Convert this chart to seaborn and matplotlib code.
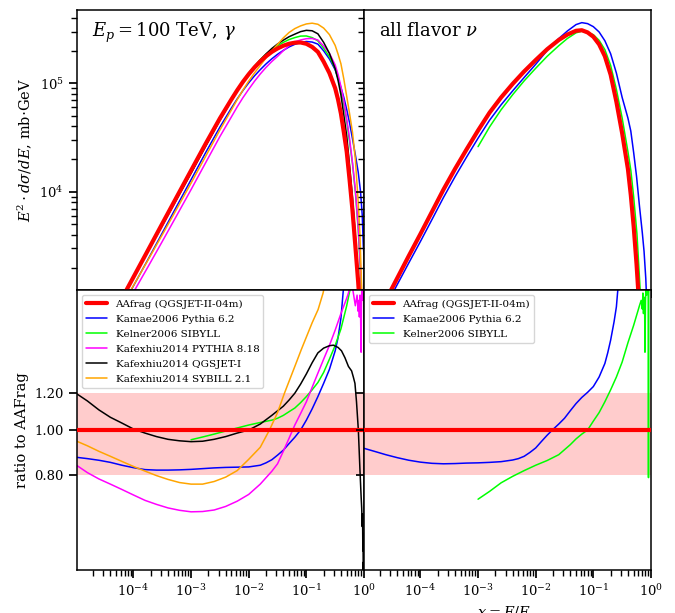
import numpy as np
import matplotlib
matplotlib.use("Agg")
import matplotlib.pyplot as plt
import matplotlib.ticker as mticker
import seaborn as sns

# ---------------- data (log10 values) ----------------
# Top-left: gamma spectra, log10 of E^2 dsigma/dE [mb GeV] vs log10 x
g_aafrag_lx = [-4.2, -4.0, -3.75, -3.5, -3.25, -3.0, -2.75, -2.5, -2.3, -2.2, -2.1, -2.0, -1.9, -1.8, -1.7, -1.6, -1.5, -1.4,
               -1.3, -1.2, -1.1, -1.0, -0.9, -0.8, -0.7, -0.6, -0.5, -0.45, -0.4, -0.35, -0.3, -0.25, -0.2, -0.15, -0.1,
               -0.07, -0.04]
g_aafrag_ly = [3.015, 3.212, 3.458, 3.705, 3.951, 4.196, 4.44, 4.677, 4.852, 4.936, 5.014, 5.084, 5.147, 5.202, 5.25, 5.29, 5.322, 5.347,
               5.365, 5.375, 5.377, 5.365, 5.336, 5.29, 5.20, 5.095, 4.955, 4.85, 4.72, 4.55, 4.37, 4.11, 3.83, 3.5, 3.16,
               2.92, 2.6]

g_kamae_lx = [-4.2, -4.0, -3.75, -3.5, -3.25, -3.0, -2.75, -2.5, -2.3, -2.2, -2.1, -2.0, -1.9, -1.8, -1.7, -1.6, -1.5, -1.4,
              -1.3, -1.2, -1.1, -1.0, -0.9, -0.8, -0.7, -0.6, -0.5, -0.45, -0.4, -0.35, -0.3, -0.25, -0.2, -0.15, -0.1,
              -0.06, -0.03, -0.012, 0.0]
g_kamae_ly = [2.939, 3.131, 3.373, 3.619, 3.865, 4.111, 4.358, 4.596, 4.772, 4.856, 4.934, 5.005, 5.069, 5.126, 5.179, 5.226, 5.268, 5.304,
              5.336, 5.36, 5.377, 5.386, 5.381, 5.362, 5.30, 5.225, 5.125, 5.049, 4.961, 4.87, 4.76, 4.635, 4.49, 4.34, 4.18,
              4.0, 3.78, 3.50, 3.42]

g_kelner_lx = [-3.0, -2.75, -2.5, -2.3, -2.2, -2.1, -2.0, -1.9, -1.8, -1.7, -1.6, -1.5, -1.4, -1.3, -1.2, -1.1, -1.0, -0.9,
               -0.8, -0.7, -0.6, -0.5, -0.45, -0.4, -0.35, -0.3, -0.25, -0.2, -0.15, -0.1, -0.05, -0.02]
g_kelner_ly = [4.175, 4.426, 4.671, 4.852, 4.94, 5.021, 5.095, 5.16, 5.218, 5.269, 5.311, 5.347, 5.378, 5.404, 5.422, 5.436, 5.437, 5.422,
               5.392, 5.324, 5.247, 5.137, 5.049, 4.9375, 4.81, 4.65, 4.46, 4.26, 4.0, 3.65, 3.15, 2.7]

g_kafpy_lx = [-4.2, -4.0, -3.75, -3.5, -3.25, -3.0, -2.75, -2.5, -2.3, -2.2, -2.1, -2.0, -1.9, -1.8, -1.7, -1.6, -1.5, -1.4,
              -1.3, -1.2, -1.1, -1.0, -0.9, -0.8, -0.7, -0.6, -0.5, -0.45, -0.4, -0.35, -0.3, -0.25, -0.2, -0.15, -0.1,
              -0.05, -0.02]
g_kafpy_ly = [2.887, 3.072, 3.305, 3.541, 3.78, 4.02, 4.265, 4.509, 4.691, 4.783, 4.868, 4.9455, 5.019, 5.086, 5.147, 5.201, 5.249, 5.301,
              5.347, 5.383, 5.40, 5.412, 5.414, 5.40, 5.345, 5.277, 5.17, 5.083, 4.97, 4.84, 4.67, 4.49, 4.27, 4.02, 3.68,
              3.2, 2.7]

g_kafqg_lx = [-4.2, -4.0, -3.75, -3.5, -3.25, -3.0, -2.75, -2.5, -2.3, -2.2, -2.1, -2.0, -1.9, -1.8, -1.7, -1.6, -1.5, -1.4,
              -1.3, -1.2, -1.1, -1.0, -0.9, -0.8, -0.7, -0.6, -0.5, -0.45, -0.4, -0.35, -0.3, -0.25, -0.2, -0.15, -0.1,
              -0.05]
g_kafqg_ly = [3.03, 3.214, 3.449, 3.688, 3.929, 4.171, 4.417, 4.659, 4.841, 4.929, 5.011, 5.084, 5.1535, 5.215, 5.271, 5.321, 5.363, 5.398,
              5.43, 5.454, 5.477, 5.489, 5.485, 5.457, 5.378, 5.277, 5.135, 5.0275, 4.892, 4.707, 4.516, 4.24, 3.948, 3.59, 3.16,
              2.58]

g_kafsy_lx = [-4.2, -4.0, -3.75, -3.5, -3.25, -3.0, -2.75, -2.5, -2.3, -2.2, -2.1, -2.0, -1.9, -1.8, -1.7, -1.6, -1.5, -1.4,
              -1.3, -1.2, -1.1, -1.0, -0.9, -0.8, -0.7, -0.6, -0.5, -0.45, -0.4, -0.35, -0.3, -0.25, -0.2, -0.15, -0.1,
              -0.07, -0.04, -0.02]
g_kafsy_ly = [2.9475, 3.134, 3.367, 3.603, 3.84, 4.08, 4.324, 4.57, 4.755, 4.849, 4.938, 5.021, 5.096, 5.165, 5.2345, 5.30, 5.359, 5.419,
              5.469, 5.505, 5.53, 5.548, 5.555, 5.545, 5.51, 5.45, 5.35, 5.27, 5.18, 5.04, 4.88, 4.72, 4.55, 4.3, 3.9,
              3.6, 3.1, 2.6]

# Top-right: all-flavour neutrino spectra
n_aafrag_lx = [-4.6, -4.4, -4.2, -4.0, -3.8, -3.6, -3.4, -3.2, -3.0, -2.8, -2.6, -2.4, -2.2, -2.0, -1.8, -1.6, -1.45, -1.3,
               -1.2, -1.1, -1.0, -0.9, -0.8, -0.7, -0.6, -0.5, -0.4, -0.35, -0.3, -0.25, -0.22, -0.18]
n_aafrag_ly = [3.0, 3.205, 3.41, 3.61, 3.815, 4.02, 4.21, 4.39, 4.565, 4.73, 4.87, 4.995, 5.11, 5.215, 5.315, 5.40, 5.45, 5.485,
               5.49, 5.47, 5.43, 5.36, 5.25, 5.08, 4.83, 4.54, 4.21, 3.97, 3.68, 3.33, 3.08, 2.7]

n_kamae_lx = [-4.6, -4.4, -4.2, -4.0, -3.8, -3.6, -3.4, -3.2, -3.0, -2.8, -2.6, -2.4, -2.2, -2.0, -1.8, -1.6, -1.45, -1.3,
              -1.2, -1.1, -1.0, -0.9, -0.8, -0.7, -0.6, -0.5, -0.4, -0.35, -0.3, -0.25, -0.2, -0.15, -0.12, -0.09, -0.075, -0.06]
n_kamae_ly = [2.947, 3.1455, 3.345, 3.541, 3.743, 3.947, 4.138, 4.319, 4.494, 4.66, 4.802, 4.93, 5.054, 5.176, 5.304, 5.413, 5.483, 5.542,
              5.56, 5.551, 5.523, 5.474, 5.393, 5.273, 5.095, 4.87, 4.68, 4.56, 4.36, 4.14, 3.87, 3.62, 3.45, 3.2, 3.0, 2.8]

n_kelner_lx = [-3.0, -2.8, -2.6, -2.4, -2.2, -2.0, -1.8, -1.6, -1.45, -1.3, -1.2, -1.1, -1.0, -0.9, -0.8, -0.7, -0.6, -0.5,
               -0.4, -0.35, -0.3, -0.243, -0.186, -0.15]
n_kelner_ly = [4.416, 4.598, 4.7565, 4.895, 5.023, 5.139, 5.25, 5.347, 5.414, 5.466, 5.481, 5.47, 5.449, 5.397, 5.311, 5.166, 4.944, 4.68,
               4.37, 4.2, 3.95, 3.61, 3.08, 2.7]

# Bottom-left: gamma ratios to AAfrag (log10 x, ratio)
rg_aafrag_lx = [-5.0, 0.0]
rg_aafrag = [1.0, 1.0]

rg_kamae_lx = [-5.0, -4.8, -4.6, -4.4, -4.2, -4.0, -3.8, -3.6, -3.4, -3.2, -3.0, -2.8, -2.6, -2.4, -2.2, -2.0, -1.8, -1.7,
               -1.6, -1.5, -1.4, -1.3, -1.2, -1.1, -1.0, -0.9, -0.8, -0.7, -0.6, -0.5, -0.45, -0.4, -0.36, -0.3]
rg_kamae = [0.874, 0.868, 0.861, 0.852, 0.84, 0.83, 0.822, 0.82, 0.82, 0.821, 0.823, 0.826, 0.829, 0.831, 0.832, 0.833, 0.84, 0.85,
            0.863, 0.883, 0.905, 0.935, 0.965, 1.0, 1.05, 1.11, 1.18, 1.26, 1.35, 1.48, 1.58, 1.74, 1.99, 2.5]

rg_kelner_lx = [-3.0, -2.8, -2.6, -2.4, -2.2, -2.0, -1.8, -1.6, -1.5, -1.4, -1.3, -1.2, -1.1, -1.0, -0.9, -0.8, -0.7, -0.6,
                -0.5, -0.4, -0.3, -0.244, -0.2]
rg_kelner = [0.953, 0.966, 0.98, 0.995, 1.01, 1.025, 1.038, 1.05, 1.06, 1.075, 1.095, 1.115, 1.145, 1.18, 1.22, 1.265, 1.33, 1.42,
             1.52, 1.65, 1.85, 2.0, 2.3]

rg_kafpy_lx = [-5.0, -4.8, -4.6, -4.4, -4.2, -4.0, -3.8, -3.6, -3.4, -3.2, -3.0, -2.8, -2.6, -2.4, -2.2, -2.0, -1.8, -1.6,
               -1.5, -1.4, -1.3, -1.2, -1.1, -1.0, -0.9, -0.8, -0.7, -0.6, -0.5, -0.4, -0.3, -0.27, -0.22,
               -0.15, -0.12, -0.1, -0.09, -0.08, -0.07, -0.06, -0.05, -0.045, -0.035, -0.025, -0.015]
rg_kafpy = [0.842, 0.81, 0.785, 0.765, 0.745, 0.725, 0.706, 0.692, 0.68, 0.672, 0.667, 0.668, 0.673, 0.685, 0.703, 0.727, 0.765, 0.815,
            0.846, 0.9, 0.96, 1.025, 1.085, 1.15, 1.235, 1.325, 1.42, 1.52, 1.64, 1.78, 1.92, 1.97, 2.1,
            1.85, 1.95, 1.8, 1.9, 1.75, 1.95, 1.8, 1.47, 1.85, 2.1, 1.9, 2.5]

rg_kafqg_lx = [-5.0, -4.8, -4.6, -4.4, -4.2, -4.0, -3.8, -3.6, -3.4, -3.2, -3.0, -2.8, -2.6, -2.4, -2.2, -2.0, -1.8, -1.6,
               -1.4, -1.3, -1.2, -1.1, -1.0, -0.9, -0.8, -0.7, -0.6, -0.53, -0.45, -0.39, -0.33, -0.27,
               -0.215, -0.185, -0.157, -0.13, -0.098, -0.07, -0.05, -0.04, -0.03, -0.025, -0.02, -0.017, -0.013, -0.01, -0.006]
rg_kafqg = [1.20, 1.155, 1.105, 1.065, 1.035, 1.005, 0.985, 0.968, 0.955, 0.948, 0.944, 0.946, 0.955, 0.968, 0.985, 1.0, 1.03, 1.075,
            1.125, 1.16, 1.2, 1.255, 1.32, 1.395, 1.465, 1.5, 1.518, 1.522, 1.505, 1.48, 1.43, 1.37,
            1.34, 1.30, 1.26, 1.15, 1.0, 0.82, 0.72, 0.68, 0.62, 0.66, 0.55, 0.60, 0.49, 0.52, 0.40]

rg_kafsy_lx = [-5.0, -4.8, -4.6, -4.4, -4.2, -4.0, -3.8, -3.6, -3.4, -3.2, -3.0, -2.8, -2.6, -2.4, -2.2, -2.0, -1.8, -1.64,
               -1.5, -1.38, -1.2, -1.087, -0.9, -0.796, -0.71, -0.6]
rg_kafsy = [0.948, 0.925, 0.9, 0.878, 0.856, 0.835, 0.816, 0.798, 0.783, 0.771, 0.765, 0.765, 0.775, 0.792, 0.818, 0.865, 0.918, 1.0,
            1.09, 1.2, 1.37, 1.49, 1.7, 1.816, 1.97, 2.3]

# Bottom-right: neutrino ratios to AAfrag
rn_aafrag_lx = [-5.0, 0.0]
rn_aafrag = [1.0, 1.0]

rn_kamae_lx = [-5.0, -4.8, -4.6, -4.4, -4.2, -4.0, -3.8, -3.6, -3.4, -3.2, -3.0, -2.8, -2.6, -2.4, -2.3, -2.2, -2.1, -2.0,
               -1.9, -1.8, -1.7, -1.6, -1.5, -1.4, -1.3, -1.2, -1.1, -1.0, -0.9, -0.8, -0.75, -0.7, -0.64, -0.6, -0.58, -0.55]
rn_kamae = [0.915, 0.9, 0.885, 0.872, 0.861, 0.853, 0.848, 0.846, 0.847, 0.849, 0.85, 0.852, 0.855, 0.862, 0.868, 0.878, 0.895, 0.915,
            0.945, 0.975, 1.003, 1.03, 1.06, 1.1, 1.14, 1.175, 1.205, 1.24, 1.3, 1.39, 1.466, 1.56, 1.71, 1.84, 1.97, 2.15]

rn_kelner_lx = [-3.0, -2.8, -2.6, -2.4, -2.2, -2.0, -1.8, -1.6, -1.4, -1.3, -1.2, -1.1, -1.0, -0.9, -0.8, -0.7, -0.6, -0.5,
                -0.4, -0.3, -0.2, -0.17, -0.15, -0.14, -0.13, -0.12, -0.11, -0.104, -0.095, -0.085, -0.075, -0.065,
                -0.055, -0.048, -0.045, -0.043, -0.041]
rn_kelner = [0.71, 0.738, 0.77, 0.795, 0.818, 0.84, 0.86, 0.885, 0.93, 0.957, 0.98, 1.0, 1.045, 1.09, 1.15, 1.22, 1.3, 1.4,
             1.54, 1.68, 1.85, 1.9, 1.82, 1.97, 1.78, 1.93, 1.85, 1.47, 1.9, 2.05, 1.95, 2.2,
             2.0, 2.3, 2.6, 0.79, 2.6]

labels = ["AAfrag (QGSJET-II-04m)", "Kamae2006 Pythia 6.2", "Kelner2006 SIBYLL",
          "Kafexhiu2014 PYTHIA 8.18", "Kafexhiu2014 QGSJET-I", "Kafexhiu2014 SYBILL 2.1"]
colors = ["red", "blue", "lime", "magenta", "black", "orange"]

# ---------------- style ----------------
sns.set_theme(style="ticks")
plt.rcParams.update({
    "font.family": ["DejaVu Serif"],
    "mathtext.fontset": "dejavuserif",
    "axes.edgecolor": "black",
    "axes.linewidth": 1.1,
    "xtick.color": "black",
    "ytick.color": "black",
    "text.color": "black",
    "axes.labelcolor": "black",
    "xtick.labelsize": 9.5,
    "ytick.labelsize": 9.5,
    "axes.labelsize": 10.5,
    "legend.fontsize": 7.5,
})

fig, axes = plt.subplots(2, 2, figsize=(6.75, 6.13), dpi=100, sharex=True, sharey="row")
fig.subplots_adjust(left=0.1141, right=0.9644, top=0.9837, bottom=0.0701, hspace=0, wspace=0)
ax_tl, ax_tr = axes[0]
ax_bl, ax_br = axes[1]

for ax in axes.flat:
    ax.set_xscale("log")
    ax.set_yscale("log")


def draw(ax, lx, ly, color, lw, label=None, logy=True, z=2):
    x = 10 ** np.asarray(lx, dtype=float)
    y = 10 ** np.asarray(ly, dtype=float) if logy else np.asarray(ly, dtype=float)
    sns.lineplot(x=x, y=y, ax=ax, color=color, lw=lw, estimator=None, sort=False,
                 label=label if label else "_nolegend_", legend=False, zorder=z)


thick, thin = 3.0, 1.1

# top-left gamma
gam = [(g_kamae_lx, g_kamae_ly), (g_kelner_lx, g_kelner_ly), (g_kafpy_lx, g_kafpy_ly),
       (g_kafqg_lx, g_kafqg_ly), (g_kafsy_lx, g_kafsy_ly)]
for (lx, ly), c in zip(gam, colors[1:]):
    draw(ax_tl, lx, ly, c, thin)
draw(ax_tl, g_aafrag_lx, g_aafrag_ly, "red", thick, z=5)

# top-right neutrino
for (lx, ly), c in zip([(n_kamae_lx, n_kamae_ly), (n_kelner_lx, n_kelner_ly)], colors[1:3]):
    draw(ax_tr, lx, ly, c, thin)
draw(ax_tr, n_aafrag_lx, n_aafrag_ly, "red", thick, z=5)

# bottom-left ratios
ax_bl.axhspan(0.8, 1.2, color="red", alpha=0.2, lw=0, zorder=0)
draw(ax_bl, rg_aafrag_lx, rg_aafrag, "red", thick, label=labels[0], logy=False, z=5)
rg = [(rg_kamae_lx, rg_kamae), (rg_kelner_lx, rg_kelner), (rg_kafpy_lx, rg_kafpy),
      (rg_kafqg_lx, rg_kafqg), (rg_kafsy_lx, rg_kafsy)]
for (lx, r), c, lab in zip(rg, colors[1:], labels[1:]):
    draw(ax_bl, lx, r, c, thin, label=lab, logy=False)

# bottom-right ratios
ax_br.axhspan(0.8, 1.2, color="red", alpha=0.2, lw=0, zorder=0)
draw(ax_br, rn_aafrag_lx, rn_aafrag, "red", thick, label=labels[0], logy=False, z=5)
for (lx, r), c, lab in zip([(rn_kamae_lx, rn_kamae), (rn_kelner_lx, rn_kelner)], colors[1:3], labels[1:3]):
    draw(ax_br, lx, r, c, thin, label=lab, logy=False)

# axes limits / ticks
ax_tl.set_xlim(1.05e-5, 1.0)
ax_tl.set_ylim(1.24e3, 4.75e5)
ax_bl.set_ylim(0.5, 2.0)
ax_bl.yaxis.set_major_locator(mticker.FixedLocator([0.8, 1.0, 1.2]))
ax_bl.yaxis.set_major_formatter(mticker.FormatStrFormatter("%.2f"))
ax_bl.yaxis.set_minor_locator(mticker.NullLocator())
ax_bl.xaxis.set_major_locator(mticker.LogLocator(base=10, numticks=10))

for ax in axes.flat:
    ax.tick_params(which="both", direction="out")
    ax.set_xlabel("")
    ax.set_ylabel("")

ax_tl.set_ylabel(r"$E^2\cdot d\sigma/dE$, mb$\cdot$GeV")
ax_bl.set_ylabel("ratio to AAFrag")
ax_br.set_xlabel(r"$x = E/E_p$")

ax_tl.text(0.052, 0.918, r"$E_p = 100$ TeV, $\gamma$", transform=ax_tl.transAxes,
           fontsize=13, va="center", ha="left")
ax_tr.text(0.053, 0.925, r"all flavor $\nu$", transform=ax_tr.transAxes,
           fontsize=13, va="center", ha="left")

for ax in (ax_bl, ax_br):
    leg = ax.legend(loc="upper left", fontsize=7.5, frameon=True, fancybox=True, labelspacing=0.55)
    leg.get_frame().set_edgecolor("0.8")

fig.savefig("out.png", dpi=100)
